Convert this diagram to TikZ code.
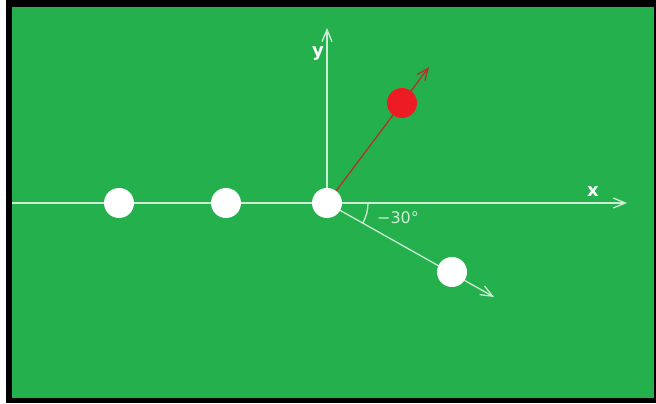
\documentclass[tikz,border=0pt]{standalone}
\usepackage{fontspec}
\setmainfont{DejaVu Sans}
\usetikzlibrary{arrows.meta}
\definecolor{field}{RGB}{36,177,77}
\definecolor{axisln}{RGB}{205,236,212}
\definecolor{ballred}{RGB}{237,28,36}
\definecolor{velred}{RGB}{190,40,40}
\pgfdeclarelayer{back}
\pgfsetlayers{back,main}

\begin{document}
\begin{tikzpicture}[x=1pt, y=1pt,
                    ball/.style={circle, fill=white, minimum size=30pt, inner sep=0pt},
                    axis/.style={axisln, line width=1.3pt},
                    lbl/.style={font=\fontsize{16}{16}\selectfont, text=axisln},
                    axlbl/.style={font=\bfseries\fontsize{18}{18}\selectfont, text=white},
                    >={Straight Barb[length=12pt,width=10pt]}]
  \useasboundingbox (0,0) rectangle (656,404);

  % balls on the line and the two after the split
  \node[ball] (b1) at (119,201) {};
  \node[ball] (b2) at (226,201) {};
  \node[ball] (o)  at (327,201) {};
  \node[ball] (bd) at (452,132) {};
  \node[ball, fill=ballred] (br) at (402,301) {};

  \coordinate (xs) at (12,201);
  \coordinate (xe) at (627,201);
  \coordinate (ye) at (327,376);
  \coordinate (re) at (429,337);
  \coordinate (de) at (494,107);

  \begin{pgfonlayer}{back}
    % frame and field
    \fill[black] (6,1) rectangle (656,404);
    \fill[field] (12,6) rectangle (654,397);
    \draw[axis, ->] (xs) -- (xe);
    \draw[axis, ->] (o.center) -- (ye);
    \draw[axis, ->] (o.center) -- (de);
    \draw[velred, line width=1.2pt, ->] (o) -- (re);
  \end{pgfonlayer}

  % angle below the x axis
  \draw[axis] ([shift={(0:41)}]o.center) arc (0:-29:41);

  \node[axlbl] (xl) at (593,212) {x};
  \node[axlbl] (yl) at (318,350) {y};
  \node[lbl] (al) at (398,186) {−30°};
\end{tikzpicture}
\end{document}
